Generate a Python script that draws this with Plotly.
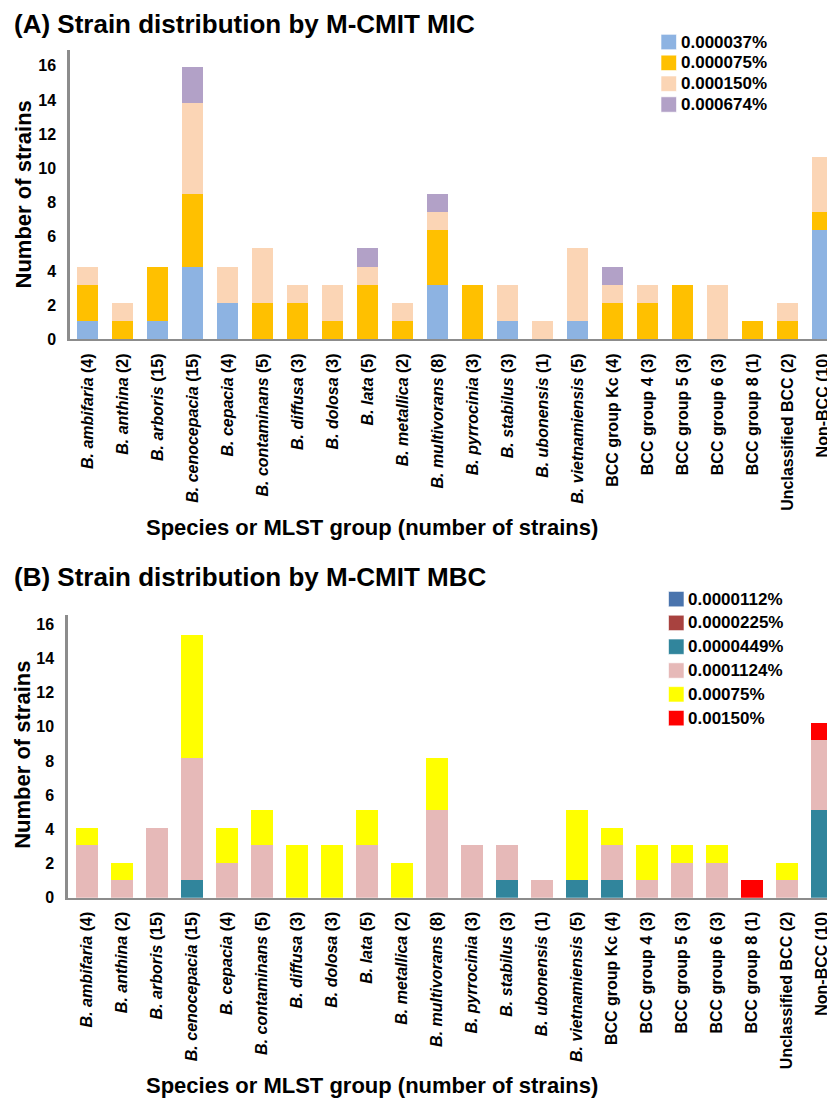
import plotly.graph_objects as go

# ---------------- data ----------------
species = ["B. ambifaria", "B. anthina", "B. arboris", "B. cenocepacia", "B. cepacia",
           "B. contaminans", "B. diffusa", "B. dolosa", "B. lata", "B. metallica",
           "B. multivorans", "B. pyrrocinia", "B. stabilus", "B. ubonensis",
           "B. vietnamiensis", "BCC group Kc", "BCC group 4", "BCC group 5",
           "BCC group 6", "BCC group 8", "Unclassified BCC", "Non-BCC"]
strain_counts = [4, 2, 15, 15, 4, 5, 3, 3, 5, 2, 8, 3, 3, 1, 5, 4, 3, 3, 3, 1, 2, 10]

# (A) MIC
mic_labels = ["0.000037%", "0.000075%", "0.000150%", "0.000674%"]
mic_000037 = [1, 0, 1, 4, 2, 0, 0, 0, 0, 0, 3, 0, 1, 0, 1, 0, 0, 0, 0, 0, 0, 6]
mic_000075 = [2, 1, 3, 4, 0, 2, 2, 1, 3, 1, 3, 3, 0, 0, 0, 2, 2, 3, 0, 1, 1, 1]
mic_000150 = [1, 1, 0, 5, 2, 3, 1, 2, 1, 1, 1, 0, 2, 1, 4, 1, 1, 0, 3, 0, 1, 3]
mic_000674 = [0, 0, 0, 2, 0, 0, 0, 0, 1, 0, 1, 0, 0, 0, 0, 1, 0, 0, 0, 0, 0, 0]
mic_colors = ["#8DB3E2", "#FFC000", "#FBD5B5", "#B2A1C7"]

# (B) MBC
mbc_labels = ["0.0000112%", "0.0000225%", "0.0000449%", "0.0001124%", "0.00075%", "0.00150%"]
mbc_0000112 = [0, 0, 0, 0, 0, 0, 0, 0, 0, 0, 0, 0, 0, 0, 0, 0, 0, 0, 0, 0, 0, 0]
mbc_0000225 = [0, 0, 0, 0, 0, 0, 0, 0, 0, 0, 0, 0, 0, 0, 0, 0, 0, 0, 0, 0, 0, 0]
mbc_0000449 = [0, 0, 0, 1, 0, 0, 0, 0, 0, 0, 0, 0, 1, 0, 1, 1, 0, 0, 0, 0, 0, 5]
mbc_0001124 = [3, 1, 4, 7, 2, 3, 0, 0, 3, 0, 5, 3, 2, 1, 0, 2, 1, 2, 2, 0, 1, 4]
mbc_00075 = [1, 1, 0, 7, 2, 2, 3, 3, 2, 2, 3, 0, 0, 0, 4, 1, 2, 1, 1, 0, 1, 0]
mbc_00150 = [0, 0, 0, 0, 0, 0, 0, 0, 0, 0, 0, 0, 0, 0, 0, 0, 0, 0, 0, 1, 0, 1]
mbc_colors = ["#4A74AD", "#A8423F", "#31859C", "#E6B9B8", "#FFFF00", "#FF0000"]

y_ticks = [0, 2, 4, 6, 8, 10, 12, 14, 16]

# ---------------- page geometry ----------------
# the page body has a default 8px margin, so the figure is shrunk and offset by it
PAGE_W, PAGE_H = 835, 1105
OFF = 8
W, H = PAGE_W - OFF, PAGE_H - OFF
FONT = "Liberation Sans, Arial, sans-serif"


def px_x(p):
    return (p - OFF) / W


def px_y(p):
    return 1 - (p - OFF) / H


def make_label(name, n):
    if name.startswith("B. "):
        return f"<b><i>{name}</i> ({n})</b>"
    return f"<b>{name} ({n})</b>"


cats = [make_label(s, n) for s, n in zip(species, strain_counts)]

fig = go.Figure()

mic_series = [mic_000037, mic_000075, mic_000150, mic_000674]
for name, vals, col in zip(mic_labels, mic_series, mic_colors):
    fig.add_trace(go.Bar(x=cats, y=vals, name=name, marker=dict(color=col, line=dict(width=0)),
                         width=0.62, xaxis="x", yaxis="y", showlegend=False))

mbc_series = [mbc_0000112, mbc_0000225, mbc_0000449, mbc_0001124, mbc_00075, mbc_00150]
for name, vals, col in zip(mbc_labels, mbc_series, mbc_colors):
    fig.add_trace(go.Bar(x=cats, y=vals, name=name, marker=dict(color=col, line=dict(width=0)),
                         width=0.62, xaxis="x2", yaxis="y2", showlegend=False))

# tick labels in the reference sit slightly compressed relative to bar heights
TICK_SCALE_A = 0.94
TICK_SCALE_B = 0.977

axis_line = "#8C8C8C"
tickfont = dict(family=FONT, size=16, color="black", weight="bold")

xcommon = dict(type="category", categoryorder="array", categoryarray=cats,
               tickangle=-90, tickfont=tickfont, ticks="", showgrid=False,
               showline=True, linecolor=axis_line, linewidth=1.5, zeroline=False,
               ticklabelstandoff=6)
ycommon = dict(showgrid=False, zeroline=False, showline=True, linecolor=axis_line,
               linewidth=2.5, ticks="", tickfont=tickfont, ticklabelstandoff=8)

fig.update_layout(
    width=W, height=H,
    margin=dict(l=0, r=0, t=0, b=0),
    paper_bgcolor="white", plot_bgcolor="white",
    barmode="stack",
    showlegend=False,
    xaxis=dict(domain=[px_x(70), 1], range=[-0.5, 21.357], anchor="y", **xcommon),
    yaxis=dict(domain=[px_y(342), px_y(50)], range=[0, 15.93], anchor="x",
               tickvals=[t * TICK_SCALE_A for t in y_ticks], ticktext=[str(t) for t in y_ticks],
               **ycommon),
    xaxis2=dict(domain=[px_x(68), 1], range=[-0.549, 21.366], anchor="y2", **xcommon),
    yaxis2=dict(domain=[px_y(905), px_y(620)], range=[0, 16.17], anchor="x2",
                tickvals=[t * TICK_SCALE_B for t in y_ticks], ticktext=[str(t) for t in y_ticks],
                **ycommon),
)

annotations = []
shapes = []

# titles
annotations.append(dict(text="<b>(A) Strain distribution by M-CMIT MIC</b>", x=px_x(12), y=px_y(24),
                        xref="paper", yref="paper", xanchor="left", yanchor="middle", showarrow=False,
                        font=dict(family=FONT, size=26, color="black")))
annotations.append(dict(text="<b>(B) Strain distribution by M-CMIT MBC</b>", x=px_x(12), y=px_y(582),
                        xref="paper", yref="paper", xanchor="left", yanchor="middle", showarrow=False,
                        font=dict(family=FONT, size=26, color="black")))

# axis titles
for yc in (196, 761):
    annotations.append(dict(text="<b>Number of strains</b>", x=px_x(23), y=px_y(yc), xref="paper",
                            yref="paper", xanchor="center", yanchor="middle", textangle=-90,
                            showarrow=False, font=dict(family=FONT, size=22, color="black")))
for yc in (532, 1094):
    annotations.append(dict(text="<b>Species or MLST group (number of strains)</b>", x=px_x(372),
                            y=px_y(yc), xref="paper", yref="paper", xanchor="center",
                            yanchor="middle", showarrow=False,
                            font=dict(family=FONT, size=22, color="black")))


def add_legend(labels, colors, x_sw, y0, step, x_txt, size=15.5, fsize=17):
    for i, (lab, col) in enumerate(zip(labels, colors)):
        yc = y0 + i * step
        shapes.append(dict(type="rect", xref="paper", yref="paper",
                           x0=px_x(x_sw), x1=px_x(x_sw + size),
                           y0=px_y(yc + size / 2), y1=px_y(yc - size / 2),
                           fillcolor=col, line=dict(color="rgba(255,255,255,0.6)", width=1)))
        annotations.append(dict(text=f"<b>{lab}</b>", x=px_x(x_txt), y=px_y(yc), xref="paper",
                                yref="paper", xanchor="left", yanchor="middle", showarrow=False,
                                font=dict(family=FONT, size=fsize, color="black")))


add_legend(mic_labels, mic_colors, 661, 42.3, 21, 679)
add_legend(mbc_labels, mbc_colors, 668.5, 604, 24, 686)

fig.update_layout(annotations=annotations, shapes=shapes)

fig.write_html("out.html")
